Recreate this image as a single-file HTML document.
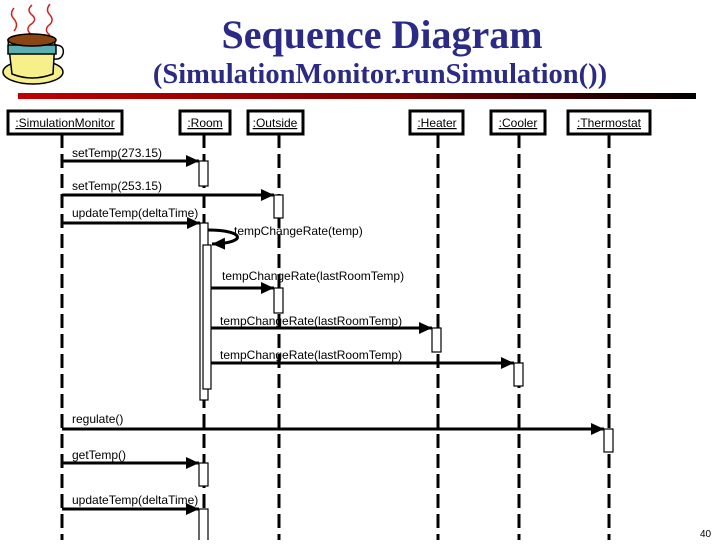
<!DOCTYPE html>
<html><head><style>
body{margin:0;background:#fff;width:720px;height:540px;overflow:hidden}
svg text{font-family:"Liberation Sans",sans-serif}
</style></head><body>
<svg width="720" height="540" xmlns="http://www.w3.org/2000/svg">
<defs>
<linearGradient id="g" x1="0" x2="1"><stop offset="0" stop-color="#c00000"/><stop offset="0.55" stop-color="#800000"/><stop offset="1" stop-color="#000"/></linearGradient>
<marker id="a" markerWidth="13" markerHeight="12" refX="13" refY="6" orient="auto" markerUnits="userSpaceOnUse"><path d="M0,0L13,6L0,12z" fill="#000"/></marker>
</defs>
<!-- cup -->
<g stroke="#000" stroke-width="1.5">
<path d="M14,8 q-5,6 0,11 q5,6 0,12 M32,5 q-6,5 0,10 q6,5 -2,10 q-5,5 2,10 M50,4 q-5,6 0,11 q5,6 -2,11 q-4,5 2,9" fill="none" stroke="#d02020"/>
<ellipse cx="33" cy="72" rx="30" ry="12" fill="#f7f08a"/>
<path d="M8,40 L55,40 L53,74 Q32,82 12,74 Z" fill="#f7f08a"/>
<path d="M55,45 q10,0 8,9 q-2,6 -9,5" fill="none"/>
<rect x="8" y="45" width="48" height="9" fill="#5ab0b0"/>
<ellipse cx="32" cy="40" rx="24" ry="6" fill="#8b4513"/>
</g>
<text x="382" y="48" text-anchor="middle" style="font-family:'Liberation Serif',serif" font-weight="bold" font-size="40" fill="#2b2b85">Sequence Diagram</text>
<text x="380" y="83" text-anchor="middle" style="font-family:'Liberation Serif',serif" font-weight="bold" font-size="28.5" fill="#2b2b85">(SimulationMonitor.runSimulation())</text>
<rect x="18" y="93" width="678" height="6" fill="url(#g)"/>
<!-- lifelines -->
<g stroke="#000" stroke-width="3" stroke-dasharray="14,6">
<line x1="62" y1="134" x2="62" y2="540"/>
<line x1="204" y1="134" x2="204" y2="540"/>
<line x1="279" y1="134" x2="279" y2="540"/>
<line x1="438" y1="134" x2="438" y2="540"/>
<line x1="519" y1="134" x2="519" y2="540"/>
<line x1="609" y1="134" x2="609" y2="540"/>
</g>
<!-- boxes -->
<g fill="#fff" stroke="#000" stroke-width="3">
<rect x="8" y="111" width="114" height="23"/>
<rect x="180" y="111" width="50" height="23"/>
<rect x="248" y="111" width="55" height="23"/>
<rect x="410" y="111" width="53" height="23"/>
<rect x="491" y="111" width="54" height="23"/>
<rect x="568" y="111" width="82" height="23"/>
</g>
<g font-size="12" text-decoration="underline">
<text x="65" y="127" text-anchor="middle">:SimulationMonitor</text>
<text x="205" y="127" text-anchor="middle">:Room</text>
<text x="275" y="127" text-anchor="middle">:Outside</text>
<text x="437" y="127" text-anchor="middle">:Heater</text>
<text x="518" y="127" text-anchor="middle">:Cooler</text>
<text x="609" y="127" text-anchor="middle">:Thermostat</text>
</g>
<!-- activations -->
<g fill="#fff" stroke="#000" stroke-width="1.2">
<rect x="199" y="161" width="9" height="25"/>
<rect x="274" y="195" width="9" height="23"/>
<rect x="200" y="223" width="8" height="177"/>
<rect x="203" y="245" width="8" height="144"/>
<rect x="274" y="288" width="9" height="25"/>
<rect x="432" y="328" width="9" height="24"/>
<rect x="514" y="363" width="9" height="23"/>
<rect x="604" y="429" width="9" height="23"/>
<rect x="199" y="463" width="9" height="23"/>
<rect x="199" y="509" width="9" height="35"/>
</g>
<!-- messages -->
<g stroke="#000" stroke-width="3" marker-end="url(#a)" fill="none">
<line x1="62" y1="161" x2="199" y2="161"/>
<line x1="62" y1="195" x2="274" y2="195"/>
<line x1="62" y1="223" x2="200" y2="223"/>
<path d="M208,230 C245,230 248,243 212,244"/>
<line x1="211" y1="288" x2="274" y2="288"/>
<line x1="211" y1="328" x2="432" y2="328"/>
<line x1="211" y1="363" x2="514" y2="363"/>
<line x1="62" y1="429" x2="604" y2="429"/>
<line x1="62" y1="463" x2="199" y2="463"/>
<line x1="62" y1="509" x2="199" y2="509"/>
</g>
<g font-size="12">
<text x="72" y="157">setTemp(273.15)</text>
<text x="72" y="190">setTemp(253.15)</text>
<text x="72" y="217">updateTemp(deltaTime)</text>
<text x="234" y="235">tempChangeRate(temp)</text>
<text x="222" y="280">tempChangeRate(lastRoomTemp)</text>
<text x="220" y="325">tempChangeRate(lastRoomTemp)</text>
<text x="220" y="359">tempChangeRate(lastRoomTemp)</text>
<text x="72" y="423">regulate()</text>
<text x="72" y="459">getTemp()</text>
<text x="72" y="504">updateTemp(deltaTime)</text>
<text x="700" y="537" font-size="10">40</text>
</g>
</svg>
</body></html>
